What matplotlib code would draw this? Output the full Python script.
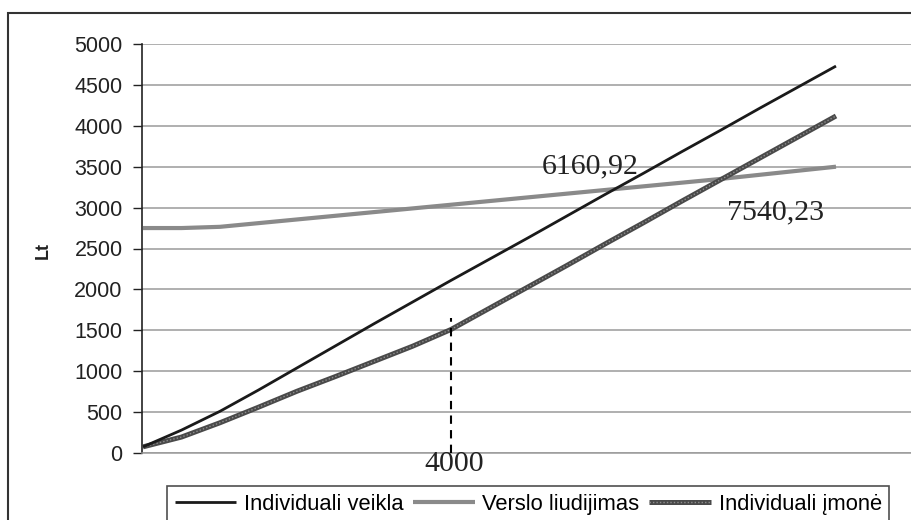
import matplotlib
matplotlib.use("Agg")
import matplotlib.pyplot as plt
from matplotlib.patches import Rectangle
from matplotlib.legend_handler import HandlerTuple

# ---- data (income, Lt) ----
income = [0, 500, 1000, 1500, 2000, 2500, 3000, 3500, 4000, 4500,
          5000, 5500, 6000, 6500, 7000, 7500, 8000, 8500, 9000]
individuali_veikla = [75, 280, 510, 770, 1040, 1310, 1580, 1845, 2110, 2370,
                      2630, 2895, 3160, 3420, 3685, 3945, 4210, 4470, 4730]
verslo_liudijimas = [2750, 2750, 2765, 2810, 2855, 2900, 2945, 2990, 3035, 3080,
                     3125, 3170, 3215, 3260, 3305, 3350, 3400, 3450, 3500]
individuali_imone = [75, 195, 370, 560, 755, 935, 1120, 1305, 1510, 1770,
                     2030, 2290, 2555, 2815, 3080, 3340, 3600, 3860, 4120]
series_names = ["Individuali veikla", "Verslo liudijimas", "Individuali įmonė"]
y_ticks = [0, 500, 1000, 1500, 2000, 2500, 3000, 3500, 4000, 4500, 5000]
marked_income = 4000
marked_top = 1650
annotations = ["6160,92", "7540,23", "4000"]
y_label = "Lt"

W, H = 911, 520
fig = plt.figure(figsize=(W / 100, H / 100), dpi=100)
ax = fig.add_axes([142 / W, 1 - 453 / H, 0.86, (453 - 44) / H])

px_per_unit = (836 - 143) / 9000.0
ax.set_xlim(-1 / px_per_unit, (142 + 0.86 * W - 143) / px_per_unit)
ax.set_ylim(0, 5000)

# lines
l1, = ax.plot(income, individuali_veikla, color="#1a1a1a", lw=2.0, zorder=4,
              solid_capstyle="butt", solid_joinstyle="round")
l2, = ax.plot(income, verslo_liudijimas, color="#8a8a8a", lw=3.0, zorder=3,
              solid_capstyle="butt")
l3a, = ax.plot(income, individuali_imone, color="#4a4a4a", lw=3.6, zorder=3,
               solid_capstyle="butt")
l3b, = ax.plot(income, individuali_imone, color="#8e8e8e", lw=1.0, zorder=3,
               linestyle=(0, (1, 1.5)))

ax.vlines(marked_income, 0, marked_top, colors="black", linestyles=(0, (4, 3)),
          lw=1.5, zorder=5)

# grid / axes
ax.set_yticks(y_ticks)
ax.set_yticklabels([str(v) for v in y_ticks])
ax.set_xticks([])
ax.yaxis.grid(True, color="#9a9a9a", lw=1.1)
ax.set_axisbelow(True)
for s in ["top", "right"]:
    ax.spines[s].set_visible(False)
ax.spines["bottom"].set_color("#9a9a9a")
ax.spines["bottom"].set_linewidth(1.1)
ax.spines["left"].set_color("#222222")
ax.spines["left"].set_linewidth(1.2)
ax.tick_params(axis="y", direction="out", length=6.5, width=1.0, pad=7.5,
               labelsize=15.5, colors="#222222")
for t in ax.get_yticklabels():
    t.set_fontfamily("Liberation Sans")

fig.text(43 / W, 1 - 250 / H, y_label, rotation=90, ha="center", va="center",
         fontsize=13, fontweight="bold", family="Liberation Sans", color="#222222")

# annotations (Times-like)
def pos(px, py):
    return ((px - 143) / px_per_unit, (453 - py) / (409 / 5000))

serif = dict(family="Liberation Serif", fontsize=21.5, color="#222222",
             ha="left", va="baseline", clip_on=False, zorder=6)
x, y = pos(542, 173)
ax.text(x, y, annotations[0], **serif)
x, y = pos(727, 219)
ax.text(x, y, annotations[1], **serif)
x, y = pos(424, 471)
ax.text(x, y, annotations[2], **serif)

# legend
leg = fig.legend([l1, l2, (l3a, l3b)], series_names,
                 handler_map={tuple: HandlerTuple(ndivide=1)},
                 loc="upper left", bbox_to_anchor=(167 / W, 1 - 486 / H),
                 bbox_transform=fig.transFigure, ncol=3, frameon=True,
                 fancybox=False, edgecolor="#222222", borderaxespad=0,
                 handlelength=2.8, handletextpad=0.35, columnspacing=0.45,
                 borderpad=0.35, prop={"family": "Liberation Sans", "size": 15.8})
leg.get_frame().set_linewidth(1.2)

# outer frame
fig.patches.append(Rectangle((8 / W, -0.2), 1.5, 1.2 - 13 / H,
                             transform=fig.transFigure, fill=False,
                             edgecolor="#333333", lw=1.5))

fig.savefig("out.png", dpi=100)
